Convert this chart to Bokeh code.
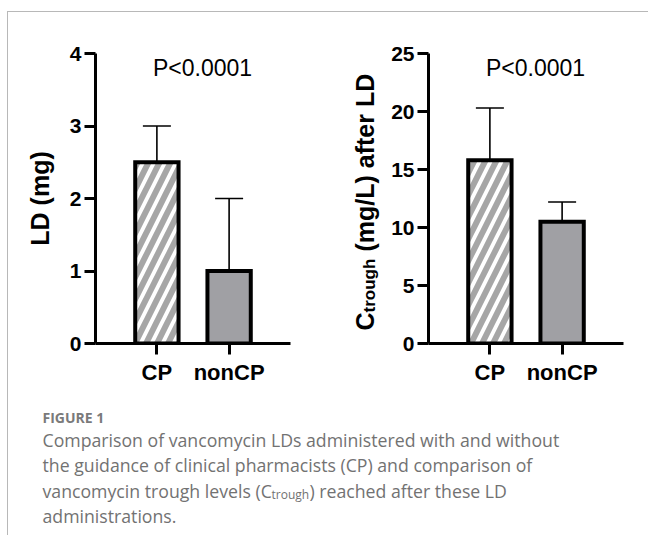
import math
from bokeh.plotting import figure
from bokeh.models import (FactorRange, Range1d, FixedTicker, Whisker, TeeHead,
                          Label, ColumnDataSource)
from bokeh.layouts import column, row
from bokeh.embed import file_html
from bokeh.resources import INLINE

# ---------------- data ----------------
groups = ["CP", "nonCP"]
ld_mean = [2.5, 1.0]
ld_upper = [3.0, 2.0]
ct_mean = [15.8, 10.5]
ct_upper = [20.3, 12.2]
ld_ticks = [0, 1, 2, 3, 4]
ct_ticks = [0, 5, 10, 15, 20, 25]
p_text = "P<0.0001"
ld_label = "LD (mg)"
ct_label_main = "C"
ct_label_sub = "trough"
ct_label_rest = "(mg/L) after LD"
fig_head = "FIGURE 1"
cap_line1 = "Comparison of vancomycin LDs administered with and without"
cap_line2 = "the guidance of clinical pharmacists (CP) and comparison of"
cap_line3a = "vancomycin trough levels (C"
cap_line3b = "trough"
cap_line3c = ") reached after these LD"
cap_line4 = "administrations."

FONT = "Liberation Sans"
CAP_FONT = "Open Sans"
fills = ["white", "#a0a0a4"]
hatches = ["/", " "]


def bar_panel(means, uppers, ymax, ticks, width, bl, br, ylabel):
    src = ColumnDataSource(dict(g=groups, m=means, u=uppers, fill=fills, hatch=hatches))
    p = figure(x_range=FactorRange(*groups, range_padding=0.35, range_padding_units="absolute"),
               y_range=Range1d(0, ymax), width=width, height=383,
               output_backend="svg", toolbar_location=None,
               min_border_left=bl, min_border_right=br, min_border_top=41, min_border_bottom=52)
    p.vbar(x="g", top="m", width=0.6, source=src, fill_color="fill",
           line_color="black", line_width=4, line_join="miter",
           hatch_pattern="hatch", hatch_color="#a6a6a6", hatch_weight=6, hatch_scale=22)
    w = Whisker(source=src, base="g", lower="m", upper="u", dimension="height",
                line_color="black", line_width=1.6, lower_head=None,
                upper_head=TeeHead(size=28, line_width=1.6, line_color="black"))
    p.add_layout(w)
    p.xgrid.visible = False
    p.ygrid.visible = False
    p.outline_line_color = None
    p.yaxis.ticker = FixedTicker(ticks=ticks, minor_ticks=[])
    for ax in (p.xaxis[0], p.yaxis[0]):
        ax.axis_line_width = 3
        ax.axis_line_color = "black"
        ax.major_tick_line_width = 3
        ax.major_tick_line_color = "black"
        ax.major_tick_out = 11
        ax.major_tick_in = 0
        ax.minor_tick_line_color = None
        ax.major_label_text_font = FONT
        ax.major_label_text_font_style = "bold"
        ax.major_label_text_color = "black"
    p.xaxis.major_label_text_font_size = "22px"
    p.yaxis.major_label_text_font_size = "21px"
    p.xaxis.major_label_standoff = 5
    p.yaxis.major_label_standoff = 3
    if ylabel:
        p.yaxis.axis_label = ylabel
        p.yaxis.axis_label_text_font = FONT
        p.yaxis.axis_label_text_font_style = "bold"
        p.yaxis.axis_label_text_font_size = "25px"
        p.yaxis.axis_label_text_color = "black"
        p.yaxis.axis_label_standoff = 13
    p.add_layout(Label(x=107, y=276, x_units="screen", y_units="screen", text=p_text,
                       text_align="center", text_baseline="middle", text_font=FONT,
                       text_font_size="23px", text_color="black"))
    return p


f1 = bar_panel(ld_mean, ld_upper, 4, ld_ticks, 320, 87, 38, ld_label)
f2 = bar_panel(ct_mean, ct_upper, 25, ct_ticks, 260, 40, 25, None)

# composite y-axis label (with subscript) for the right panel, in its own strip
# (the row aligns this strip's frame with the neighbouring plot frames: 60 x 290 px)
flab = figure(width=60, height=383, x_range=Range1d(0, 60), y_range=Range1d(0, 290),
              output_backend="svg", toolbar_location=None, min_border=0,
              x_axis_location=None, y_axis_location=None)
flab.xgrid.visible = False
flab.ygrid.visible = False
flab.outline_line_color = None
ang = math.pi / 2
flab.add_layout(Label(x=36, y=13, text=ct_label_main, angle=ang, text_align="left",
                      text_baseline="alphabetic", text_font=FONT, text_font_style="bold",
                      text_font_size="25px", text_color="black"))
flab.add_layout(Label(x=41, y=31, text=ct_label_sub, angle=ang, text_align="left",
                      text_baseline="alphabetic", text_font=FONT, text_font_style="bold",
                      text_font_size="17px", text_color="black"))
flab.add_layout(Label(x=36, y=92, text=ct_label_rest, angle=ang, text_align="left",
                      text_baseline="alphabetic", text_font=FONT, text_font_style="bold",
                      text_font_size="25px", text_color="black"))

# caption panel
f3 = figure(width=640, height=140, x_range=Range1d(0, 640), y_range=Range1d(140, 0),
            output_backend="svg", toolbar_location=None, min_border=0,
            x_axis_location=None, y_axis_location=None)
f3.xgrid.visible = False
f3.ygrid.visible = False
f3.outline_line_color = None

cap_color = "#727272"
f3.add_layout(Label(x=34, y=22, text=fig_head, text_align="left", text_baseline="middle",
                    text_font=CAP_FONT, text_font_style="bold", text_font_size="14px",
                    text_color="#7a7a7a"))
for txt, yy in ((cap_line1, 44), (cap_line2, 69), (cap_line4, 120)):
    f3.add_layout(Label(x=34, y=yy, text=txt, text_align="left", text_baseline="middle",
                        text_font=CAP_FONT, text_font_size="17.7px", text_color=cap_color))
f3.add_layout(Label(x=34, y=95, text=cap_line3a, text_align="left", text_baseline="middle",
                    text_font=CAP_FONT, text_font_size="17.7px", text_color=cap_color))
f3.add_layout(Label(x=263, y=99, text=cap_line3b, text_align="left", text_baseline="middle",
                    text_font=CAP_FONT, text_font_size="12px", text_color=cap_color))
f3.add_layout(Label(x=301, y=95, text=cap_line3c, text_align="left", text_baseline="middle",
                    text_font=CAP_FONT, text_font_size="17.7px", text_color=cap_color))

layout = column(row(f1, flab, f2), f3, margin=(11, 0, 0, 7),
                styles={"border-top": "1px solid #b8b8b8", "border-left": "1px solid #b8b8b8"})

open("out.html", "w").write(file_html(layout, INLINE))
